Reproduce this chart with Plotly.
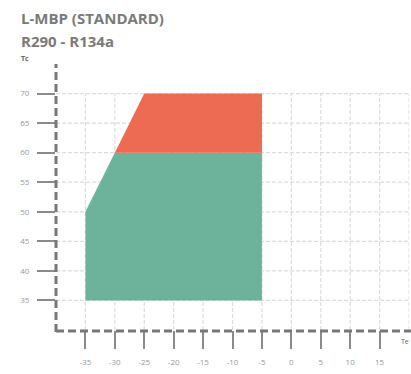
import plotly.graph_objects as go

# Data
green_x = [-35, -35, -30, -5, -5]
green_y = [35, 50, 60, 60, 35]
red_x = [-30, -25, -5, -5]
red_y = [60, 70, 70, 60]
x_ticks = [-35, -30, -25, -20, -15, -10, -5, 0, 5, 10, 15]
x_tick_labels = ["-35", "-30", "-25", "-20", "-15", "-10", "-5", "0", "5", "10", "15"]
y_ticks = [35, 40, 45, 50, 55, 60, 65, 70]
grid_x = [-35, -30, -25, -20, -15, -10, -5, 0, 5, 10, 15, 20]
grid_y = [35, 40, 45, 50, 55, 60, 65, 70]
title1 = "L-MBP (STANDARD)"
title2 = "R290 - R134a"

W, H = 411, 374
L, R, T, B = 56, 2, 64, 44
pw, ph = W - L - R, H - T - B

def px(xp):
    return (xp - L) / pw

def py(yp):
    return (H - B - yp) / ph

fig = go.Figure()
fig.add_trace(go.Scatter(x=green_x + [green_x[0]], y=green_y + [green_y[0]], fill="toself",
                         fillcolor="#6db39c", line=dict(width=0, color="#6db39c"),
                         mode="lines", hoverinfo="skip", showlegend=False))
fig.add_trace(go.Scatter(x=red_x + [red_x[0]], y=red_y + [red_y[0]], fill="toself",
                         fillcolor="#ed6a53", line=dict(width=0, color="#ed6a53"),
                         mode="lines", hoverinfo="skip", showlegend=False))

shapes = []
for gx in grid_x:
    shapes.append(dict(type="line", xref="x", yref="y", x0=gx, x1=gx, y0=30, y1=70,
                       line=dict(color="#dcdcdc", width=1.2, dash="4px,2px"), layer="below"))
for gy in grid_y:
    shapes.append(dict(type="line", xref="x", yref="y", x0=-40, x1=20, y0=gy, y1=gy,
                       line=dict(color="#dcdcdc", width=1.2, dash="4px,2px"), layer="below"))
# dashed axis lines
shapes.append(dict(type="line", xref="paper", yref="paper", x0=0, x1=0, y0=py(332), y1=1,
                   line=dict(color="#777777", width=3, dash="8px,4px")))
shapes.append(dict(type="line", xref="paper", yref="paper", x0=0, x1=px(411), y0=py(331), y1=py(331),
                   line=dict(color="#777777", width=3, dash="8px,4px")))

annotations = [
    dict(text="<b>" + title1 + "</b>", xref="paper", yref="paper", x=px(19), y=py(18),
         xanchor="left", yanchor="middle", showarrow=False,
         font=dict(family="Open Sans", size=15, color="#7a7a7a")),
    dict(text="<b>" + title2 + "</b>", xref="paper", yref="paper", x=px(19), y=py(41),
         xanchor="left", yanchor="middle", showarrow=False,
         font=dict(family="Open Sans", size=15, color="#7a7a7a")),
    dict(text="<b>Tc</b>", xref="paper", yref="paper", x=px(19), y=py(59),
         xanchor="left", yanchor="middle", showarrow=False,
         font=dict(family="Open Sans", size=7, color="#666666")),
    dict(text="Te", xref="paper", yref="paper", x=px(411), y=py(342),
         xanchor="right", yanchor="middle", showarrow=False,
         font=dict(family="Open Sans", size=7, color="#666666")),
]

fig.update_layout(
    width=W, height=H, margin=dict(l=L, r=R, t=T, b=B, autoexpand=False),
    paper_bgcolor="white", plot_bgcolor="white",
    shapes=shapes, annotations=annotations, showlegend=False,
    xaxis=dict(range=[-40, 20], tickvals=x_ticks, ticktext=x_tick_labels, ticks="outside", ticklen=18,
               tickcolor="#8a8a8a", tickwidth=1.5, showgrid=False, zeroline=False,
               showline=False, ticklabelstandoff=6, automargin=False,
               tickfont=dict(family="Open Sans", size=8, color="#999999")),
    yaxis=dict(range=[30, 75], tickvals=y_ticks, ticks="outside", ticklen=18,
               tickcolor="#8a8a8a", tickwidth=1.5, showgrid=False, zeroline=False,
               showline=False, ticklabelstandoff=6, automargin=False,
               tickfont=dict(family="Open Sans", size=8, color="#999999")),
)

fig.write_html("out.html", config={"displayModeBar": False},
               post_script="document.body.style.margin='0';document.body.style.overflow='hidden';")
